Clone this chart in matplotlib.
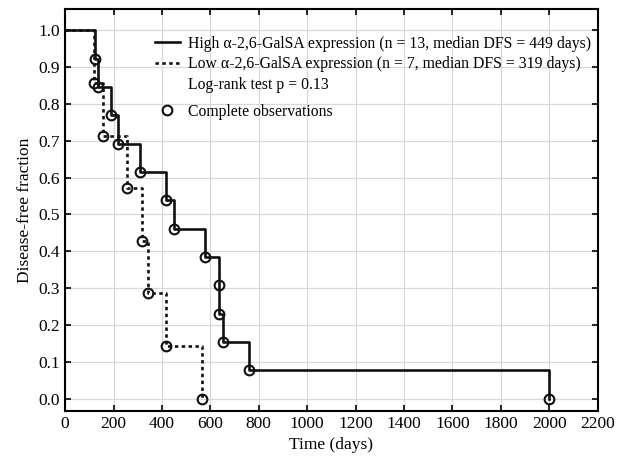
import matplotlib.pyplot as plt
from matplotlib.lines import Line2D

# Kaplan-Meier steps (event days, survival fraction)
high_days = [0, 122, 135, 188, 220, 309, 415, 450, 579, 637, 637, 653, 761, 2000]
high_surv = [1.0, 12/13, 11/13, 10/13, 9/13, 8/13, 7/13, 6/13, 5/13, 4/13, 3/13, 2/13, 1/13, 0.0]

low_days = [0, 121, 158, 254, 319, 342, 417, 565]
low_surv = [1.0, 6/7, 5/7, 4/7, 3/7, 2/7, 1/7, 0.0]

high_label = "High \u03b1-2,6-GalSA expression (n = 13, median DFS = 449 days)"
low_label = "Low \u03b1-2,6-GalSA expression (n = 7, median DFS = 319 days)"
test_label = "Log-rank test p = 0.13"
obs_label = "Complete observations"

x_ticks = list(range(0, 2201, 200))
y_ticks = [i / 10 for i in range(11)]

plt.rcParams["font.family"] = ["Liberation Serif", "DejaVu Serif"]
plt.rcParams["font.size"] = 11.3

fig = plt.figure(figsize=(6.28, 4.61), dpi=100)
ax = fig.add_axes([0.1038, 0.1091, 0.8478, 0.8707])

dash = (0, (1.3, 1.3))

ax.step(high_days, high_surv, where="post", color="#111111", lw=1.9)
ax.step(low_days, low_surv, where="post", color="#111111", lw=1.9,
        linestyle=dash)

ax.plot(high_days[1:], high_surv[1:], "o", mfc="none", mec="#111111",
        mew=1.5, ms=7)
ax.plot(low_days[1:], low_surv[1:], "o", mfc="none", mec="#111111",
        mew=1.5, ms=7)

ax.set_xlim(0, 2200)
ax.set_ylim(-0.033, 1.057)
ax.set_xticks(x_ticks)
ax.set_yticks(y_ticks)
ax.set_yticklabels([f"{v:.1f}" for v in y_ticks])
ax.grid(True, color="#d8d8d8", lw=0.9)
ax.set_axisbelow(True)
ax.tick_params(direction="in", top=True, right=True, length=4, width=1.2,
               labelsize=12.5)
for s in ax.spines.values():
    s.set_linewidth(1.5)

ax.set_xlabel("Time (days)", fontsize=12.5)
ax.set_ylabel("Disease-free fraction", fontsize=12.5)

handles = [
    Line2D([], [], color="#111111", lw=1.9),
    Line2D([], [], color="#111111", lw=1.9, linestyle=dash),
    Line2D([], [], color="none"),
]
leg1 = ax.legend(handles, [high_label, low_label, test_label],
                 loc="upper left", bbox_to_anchor=(0.168, 0.934),
                 frameon=False, handlelength=1.6, handletextpad=0.55,
                 labelspacing=0.28, borderpad=0, borderaxespad=0)
ax.add_artist(leg1)

ax.legend([Line2D([], [], marker="o", color="none", mfc="none",
                  mec="#111111", mew=1.5, ms=7)],
          [obs_label], loc="upper left", bbox_to_anchor=(0.168, 0.765),
          frameon=False, handlelength=1.6, handletextpad=0.55,
          borderpad=0, borderaxespad=0)

fig.savefig("out.png", dpi=100)
